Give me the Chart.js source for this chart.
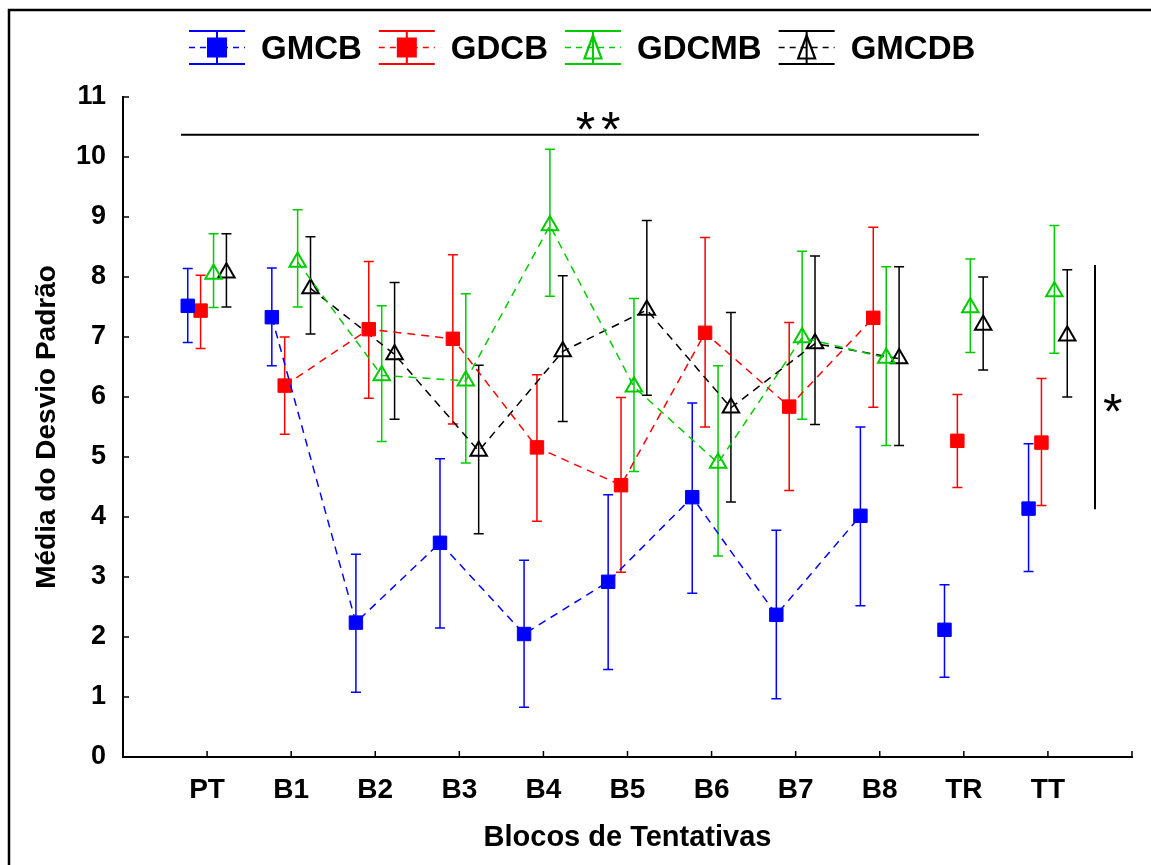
<!DOCTYPE html>
<html>
<head>
<meta charset="utf-8">
<script src="https://cdn.jsdelivr.net/npm/chart.js@4.4.0/dist/chart.umd.min.js"></script>
<style>
  html, body { margin: 0; padding: 0; background: #fff; }
  #wrap { width: 1151px; height: 865px; }
</style>
</head>
<body>
<div id="wrap"><canvas id="grafico" width="1151" height="865"></canvas></div>
<script>
// categorias do eixo x
const categorias = ['PT', 'B1', 'B2', 'B3', 'B4', 'B5', 'B6', 'B7', 'B8', 'TR', 'TT'];
const yTicks = [0, 1, 2, 3, 4, 5, 6, 7, 8, 9, 10, 11];

// GMCB
const gmcb    = [7.52, 7.33, 2.24, 3.57, 2.05, 2.92, 4.33, 2.37, 4.02, 2.12, 4.14];
const gmcbSup = [8.14, 8.15, 3.38, 4.97, 3.28, 4.37, 5.90, 3.78, 5.50, 2.87, 5.22];
const gmcbInf = [6.91, 6.52, 1.08, 2.15, 0.83, 1.46, 2.73, 0.97, 2.52, 1.33, 3.09];

// GDCB
const gdcb    = [7.44, 6.19, 7.13, 6.97, 5.16, 4.53, 7.07, 5.84, 7.32, 5.27, 5.24];
const gdcbSup = [8.03, 7.00, 8.26, 8.37, 6.37, 5.99, 8.66, 7.24, 8.83, 6.04, 6.31];
const gdcbInf = [6.81, 5.38, 5.98, 5.55, 3.93, 3.08, 5.50, 4.44, 5.83, 4.49, 4.19];

// GDCMB
const gdcmb    = [8.05, 8.25, 6.36, 6.27, 8.86, 6.17, 4.90, 6.99, 6.65, 7.49, 7.76];
const gdcmbSup = [8.72, 9.12, 7.52, 7.72, 10.13, 7.64, 6.52, 8.43, 8.17, 8.30, 8.86];
const gdcmbInf = [7.49, 7.50, 5.26, 4.90, 7.68, 4.76, 3.35, 5.63, 5.19, 6.74, 6.73];

// GMCDB
const gmcdb    = [8.07, 7.81, 6.71, 5.10, 6.76, 7.45, 5.82, 6.89, 6.64, 7.20, 7.02];
const gmcdbSup = [8.72, 8.67, 7.91, 6.53, 8.02, 8.94, 7.41, 8.35, 8.17, 8.00, 8.12];
const gmcdbInf = [7.50, 7.05, 5.63, 3.72, 5.59, 6.03, 4.25, 5.54, 5.19, 6.45, 6.00];

const nomes = ['GMCB', 'GDCB', 'GDCMB', 'GMCDB'];
const cores = ['#0000ff', '#ff0000', '#00cc00', '#000000'];
const desloc = [-0.23, -0.077, 0.077, 0.23];

const fonte = '"Liberation Sans", Arial, sans-serif';

function serie(i, medias, sup, inf, triangulo) {
  return {
    label: nomes[i],
    data: medias.map((v, k) => ({ x: k + desloc[i], y: v, sup: sup[k], inf: inf[k] })),
    showLine: true,
    borderColor: cores[i],
    borderWidth: 1.5,
    borderDash: [8, 6],
    // linhas so entre B1 e B8
    segment: {
      borderColor: ctx => (ctx.p0DataIndex < 1 || ctx.p0DataIndex >= 8) ? 'rgba(0,0,0,0)' : cores[i]
    },
    pointStyle: triangulo ? 'triangle' : 'rect',
    pointRadius: 9.5,
    pointBorderWidth: triangulo ? 2 : 1,
    pointBorderColor: cores[i],
    pointBackgroundColor: triangulo ? 'rgba(0,0,0,0)' : cores[i],
    triangulo: triangulo
  };
}

const barrasErro = {
  id: 'barrasErro',
  beforeDatasetsDraw(chart) {
    const ctx = chart.ctx, ys = chart.scales.y;
    chart.data.datasets.forEach((ds, i) => {
      const meta = chart.getDatasetMeta(i);
      ctx.save();
      ctx.strokeStyle = ds.borderColor;
      ctx.lineWidth = 1.5;
      meta.data.forEach((pt, k) => {
        const d = ds.data[k];
        const yS = ys.getPixelForValue(d.sup), yI = ys.getPixelForValue(d.inf);
        ctx.beginPath();
        ctx.moveTo(pt.x, yS); ctx.lineTo(pt.x, yI);
        ctx.moveTo(pt.x - 5, yS); ctx.lineTo(pt.x + 5, yS);
        ctx.moveTo(pt.x - 5, yI); ctx.lineTo(pt.x + 5, yI);
        ctx.stroke();
      });
      ctx.restore();
    });
  }
};

function simbolo(ctx, x, yc, cor, tri) {
  const cx = x + 28;
  ctx.save();
  ctx.strokeStyle = cor;
  ctx.lineWidth = 2;
  ctx.beginPath();
  ctx.moveTo(x, yc - 16.5); ctx.lineTo(x + 56, yc - 16.5);
  ctx.moveTo(x, yc + 16.5); ctx.lineTo(x + 56, yc + 16.5);
  ctx.moveTo(cx, yc - 16.5); ctx.lineTo(cx, yc + 16.5);
  ctx.stroke();
  ctx.lineWidth = 1.5;
  ctx.setLineDash([6, 5]);
  ctx.beginPath(); ctx.moveTo(x, yc); ctx.lineTo(x + 56, yc); ctx.stroke();
  ctx.setLineDash([]);
  if (!tri) {
    ctx.fillStyle = cor;
    ctx.fillRect(cx - 10, yc - 10, 20, 20);
  } else {
    ctx.lineWidth = 2.2;
    ctx.beginPath();
    ctx.moveTo(cx, yc - 12);
    ctx.lineTo(cx - 8.5, yc + 11);
    ctx.lineTo(cx + 8.5, yc + 11);
    ctx.closePath();
    ctx.stroke();
  }
  ctx.restore();
}

function asterisco(ctx, txt, x, yc) {
  const m = ctx.measureText(txt);
  const base = yc + (m.actualBoundingBoxAscent - m.actualBoundingBoxDescent) / 2;
  ctx.fillText(txt, x, base);
}

const extras = {
  id: 'extras',
  afterDraw(chart) {
    const ctx = chart.ctx, xs = chart.scales.x, ys = chart.scales.y;
    const a = chart.chartArea;
    ctx.save();
    // moldura
    ctx.strokeStyle = '#000';
    ctx.lineWidth = 2.5;
    ctx.strokeRect(9, 10, 1200, 900);

    // ticks para dentro
    ctx.lineWidth = 1.5;
    ctx.beginPath();
    for (let v = 0; v <= 11; v++) {
      const px = xs.getPixelForValue(v);
      ctx.moveTo(px, a.bottom); ctx.lineTo(px, a.bottom - 6);
    }
    yTicks.forEach(v => {
      const py = ys.getPixelForValue(v);
      ctx.moveTo(a.left, py); ctx.lineTo(a.left + 6, py);
    });
    ctx.stroke();

    // anotacoes de significancia
    ctx.lineWidth = 2;
    ctx.beginPath();
    ctx.moveTo(xs.getPixelForValue(-0.31), ys.getPixelForValue(10.37));
    ctx.lineTo(xs.getPixelForValue(9.18), ys.getPixelForValue(10.37));
    ctx.moveTo(xs.getPixelForValue(10.56), ys.getPixelForValue(8.2));
    ctx.lineTo(xs.getPixelForValue(10.56), ys.getPixelForValue(4.13));
    ctx.stroke();
    ctx.fillStyle = '#000';
    ctx.font = '50px ' + fonte;
    ctx.textAlign = 'center';
    ctx.textBaseline = 'alphabetic';
    asterisco(ctx, '*', xs.getPixelForValue(4.50), ys.getPixelForValue(10.6));
    asterisco(ctx, '*', xs.getPixelForValue(4.80), ys.getPixelForValue(10.6));
    asterisco(ctx, '*', xs.getPixelForValue(10.77), ys.getPixelForValue(5.9));

    // legenda
    ctx.font = 'bold 33px ' + fonte;
    ctx.textAlign = 'left';
    let x = 189;
    chart.data.datasets.forEach(ds => {
      simbolo(ctx, x, 47.5, ds.borderColor, ds.triangulo);
      ctx.fillStyle = '#000';
      ctx.fillText(ds.label, x + 72, 59);
      x += 72 + ctx.measureText(ds.label).width + 17;
    });
    ctx.restore();
  }
};

new Chart(document.getElementById('grafico'), {
  type: 'scatter',
  data: {
    datasets: [
      serie(0, gmcb, gmcbSup, gmcbInf, false),
      serie(1, gdcb, gdcbSup, gdcbInf, false),
      serie(2, gdcmb, gdcmbSup, gdcmbInf, true),
      serie(3, gmcdb, gmcdbSup, gmcdbInf, true)
    ]
  },
  options: {
    responsive: false,
    animation: false,
    events: [],
    layout: { padding: { top: 97, right: 19, bottom: 0, left: 0 } },
    plugins: {
      legend: { display: false },
      tooltip: { enabled: false }
    },
    scales: {
      x: {
        type: 'linear',
        min: -1,
        max: 11,
        afterFit: s => { s.height = 108; },
        afterBuildTicks: s => { s.ticks = categorias.map((c, k) => ({ value: k })); },
        grid: { display: false, drawTicks: false },
        border: { display: true, color: '#000', width: 2 },
        ticks: {
          autoSkip: false,
          maxRotation: 0,
          padding: 16,
          color: '#000',
          font: { family: fonte, size: 28, weight: 'bold' },
          callback: v => categorias[v] ?? ''
        },
        title: {
          display: true,
          text: 'Blocos de Tentativas',
          color: '#000',
          font: { family: fonte, size: 29, weight: 'bold' },
          padding: { top: 0, bottom: 10 }
        }
      },
      y: {
        min: 0,
        max: 11,
        afterFit: s => { s.width = 123; },
        afterBuildTicks: s => { s.ticks = yTicks.map(v => ({ value: v })); },
        grid: { display: false, drawTicks: false },
        border: { display: true, color: '#000', width: 2 },
        ticks: {
          padding: 17,
          color: '#000',
          font: { family: fonte, size: 27, weight: 'bold' }
        },
        title: {
          display: true,
          text: 'Média do Desvio Padrão',
          color: '#000',
          font: { family: fonte, size: 28, weight: 'bold' },
          padding: { top: 30, bottom: 0 }
        }
      }
    }
  },
  plugins: [barrasErro, extras]
});
</script>
</body>
</html>
